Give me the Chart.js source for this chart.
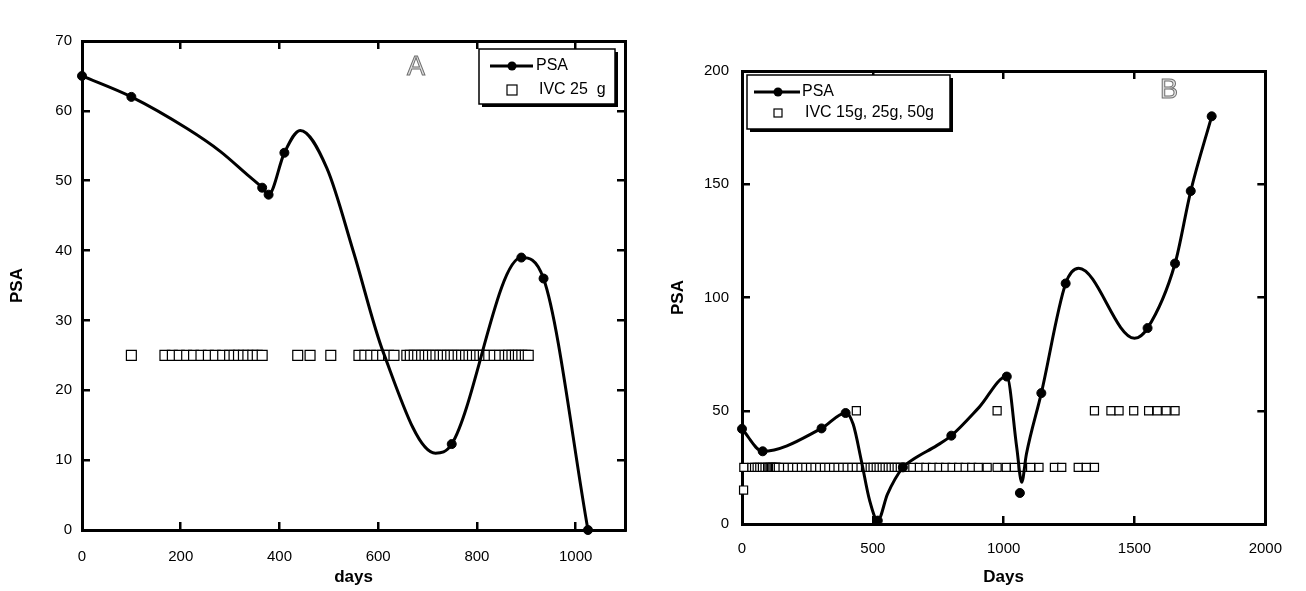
<!DOCTYPE html>
<html>
<head>
<meta charset="utf-8">
<title>PSA and IVC</title>
<script src="https://cdn.jsdelivr.net/npm/chart.js@4.4.0/dist/chart.umd.min.js"></script>
<style>
  html, body { margin: 0; padding: 0; background: #fff; }
  #wrap { position: relative; width: 1306px; height: 591px; overflow: hidden; }
  canvas { position: absolute; top: 0; }
  #chartA { left: 0; }
  #chartB { left: 653px; }
</style>
</head>
<body>
<div id="wrap">
  <canvas id="chartA" width="653" height="591"></canvas>
  <canvas id="chartB" width="653" height="591"></canvas>
</div>
<script>
// ---- panel A ----
var psaDaysA = [0, 100, 365, 378, 410, 749, 890, 935, 1025];
var psaA = [65, 62, 49, 48, 54, 12.3, 39, 36, 0];
// points (it bulges past the markers)
var curveDaysA = [0, 100, 212, 280, 334, 365, 378, 410, 442, 496, 550, 610, 716, 749, 890, 935, 1025];
var curveA = [65, 62, 57.5, 54.2, 50.9, 49, 48, 54, 57.2, 51.8, 39.8, 25.5, 11, 12.3, 39, 36, 0];
var ivcDaysA25 = [100,
  168, 183, 197, 212, 226, 241, 256, 270, 285, 299, 308, 317, 327, 336, 346, 355, 365,
  437, 462, 504,
  561, 573, 585, 597, 609, 621, 632,
  658, 665, 673, 680, 688, 695, 702, 710, 717, 725, 732, 740, 747, 754, 762, 769, 777, 784, 791, 799, 806, 813,
  824, 835, 846, 857, 864, 871, 878, 884, 891, 898, 904];
var xTicksA = { min: 0, max: 1100, step: 200 };
var yTicksA = { min: 0, max: 70, step: 10 };

// ---- panel B ----
var psaDaysB = [0, 79, 304, 396, 519, 615, 800, 1012, 1062, 1144, 1237, 1550, 1655, 1715, 1795];
var psaB = [42, 32.1, 42.2, 49, 1.5, 25, 39, 65.1, 13.7, 57.8, 106.2, 86.5, 115, 147, 180];
var curveDaysB = [0, 79, 304, 396, 425, 456, 488, 519, 556, 615, 656, 744, 800, 906, 1012, 1050, 1069, 1087,
  1144, 1237, 1287, 1500, 1550, 1655, 1715, 1795];
var curveB = [42, 32.1, 42.2, 49, 44, 28, 10.3, 1.5, 13.2, 25, 28.7, 34.6, 39, 51.5, 65.1, 33.8, 18.4, 30.9,
  57.8, 106.2, 112.9, 82, 86.5, 115, 147, 180];
var ivcDaysB15 = [6];
var ivcDaysB25 = [7, 38, 48, 58, 68, 78, 88, 98, 103, 108, 113, 118, 123, 128, 132,
  139, 157, 174, 192, 209, 227, 244, 262, 279, 297, 315, 332, 350, 367, 385, 402, 420, 437, 455, 472,
  490, 501, 513, 524, 536, 547, 559, 570, 582, 593, 605, 616,
  628, 653, 678, 703, 728, 753, 778, 803, 828, 853, 878, 903,
  937, 975, 1010, 1041, 1072, 1103, 1135, 1194, 1222, 1285, 1316, 1347];
var ivcDaysB50 = [437, 975, 1347, 1410, 1441, 1497, 1554, 1587, 1621, 1655];
var xTicksB = { min: 0, max: 2000, step: 500 };
var yTicksB = { min: 0, max: 200, step: 50 };

Chart.defaults.font.family = "'Liberation Sans', Arial, sans-serif";
Chart.defaults.color = '#000';

function pts(xs, ys) {
  return xs.map(function(x, i) { return { x: x, y: ys[i] }; });
}
function level(xs, v) {
  return xs.map(function(x) { return { x: x, y: v }; });
}
function plain(v) { return String(v); }

function buildScales(o) {
  var mark = { display: true, drawOnChartArea: false, drawTicks: true, tickLength: -8, lineWidth: 2.5, color: '#000' };
  var border = { display: true, color: '#000', width: 3 };
  var tickFont = { size: 15 };
  var titleFont = { size: 17, weight: 'bold' };
  return {
    x: {
      type: 'linear', position: 'bottom', min: o.xt.min, max: o.xt.max,
      ticks: { stepSize: o.xt.step, includeBounds: false, padding: o.xPad, font: tickFont, maxRotation: 0, callback: plain },
      grid: mark, border: border,
      title: { display: true, text: o.xTitle, font: titleFont, padding: { top: 0, bottom: 3 } },
      afterFit: function(s) { s.height = o.xHeight; }
    },
    x2: {
      type: 'linear', position: 'top', min: o.xt.min, max: o.xt.max,
      ticks: { stepSize: o.xt.step, includeBounds: false, display: false },
      grid: mark, border: border,
      afterFit: function(s) { s.height = 0; }
    },
    y: {
      type: 'linear', position: 'left', min: o.yt.min, max: o.yt.max,
      ticks: { stepSize: o.yt.step, padding: o.yPad, font: tickFont, callback: plain },
      grid: mark, border: border,
      title: { display: true, text: 'PSA', font: titleFont, padding: { top: o.yTitlePad, bottom: 0 } },
      afterFit: function(s) { s.width = o.yWidth; }
    },
    y2: {
      type: 'linear', position: 'right', min: o.yt.min, max: o.yt.max,
      ticks: { stepSize: o.yt.step, display: false },
      grid: mark, border: border,
      afterFit: function(s) { s.width = 0; }
    }
  };
}

// legend box with drop shadow + hollow panel letter
function decor(d) {
  return {
    id: 'decor',
    afterDraw: function(chart) {
      var ctx = chart.ctx;
      var sets = chart.data.datasets;
      var b = d.box;
      ctx.save();
      ctx.fillStyle = '#000';
      ctx.fillRect(b.x + 3, b.y + 3, b.w, b.h);
      ctx.fillStyle = '#fff';
      ctx.fillRect(b.x, b.y, b.w, b.h);
      ctx.strokeStyle = '#000';
      ctx.lineWidth = 1.5;
      ctx.strokeRect(b.x, b.y, b.w, b.h);

      // PSA row
      var y1 = b.y + d.row1;
      ctx.lineWidth = 3;
      ctx.beginPath();
      ctx.moveTo(b.x + d.lineFrom, y1);
      ctx.lineTo(b.x + d.lineTo, y1);
      ctx.stroke();
      ctx.beginPath();
      ctx.arc(b.x + d.mark, y1, 4.5, 0, Math.PI * 2);
      ctx.fillStyle = '#000';
      ctx.fill();
      ctx.font = "16px 'Liberation Sans', Arial, sans-serif";
      ctx.textBaseline = 'middle';
      ctx.textAlign = 'left';
      ctx.fillText(sets[1].label, b.x + d.text1, y1);

      // IVC row
      var y2 = b.y + d.row2;
      ctx.lineWidth = 1.2;
      ctx.fillStyle = '#fff';
      ctx.fillRect(b.x + d.mark - d.sq / 2, y2 - d.sq / 2, d.sq, d.sq);
      ctx.strokeRect(b.x + d.mark - d.sq / 2, y2 - d.sq / 2, d.sq, d.sq);
      ctx.fillStyle = '#000';
      ctx.fillText(d.ivcLabel, b.x + d.text2, y2);

      // panel letter
      ctx.font = "27px 'Liberation Sans', Arial, sans-serif";
      ctx.textAlign = 'center';
      ctx.fillStyle = '#e2e2e2';
      ctx.strokeStyle = '#707070';
      ctx.lineWidth = 1;
      ctx.fillText(d.letter, d.letterX, d.letterY);
      ctx.strokeText(d.letter, d.letterX, d.letterY);
      ctx.restore();
    }
  };
}

function makeChart(id, o) {
  var datasets = [
    { label: 'curve', data: pts(o.curveX, o.curveY), showLine: true, cubicInterpolationMode: 'monotone',
      borderColor: '#000', borderWidth: 3, pointRadius: 0, order: 2 },
    { label: 'PSA', data: pts(o.psaX, o.psaY), showLine: false, pointStyle: 'circle', pointRadius: 4.5,
      pointBackgroundColor: '#000', pointBorderColor: '#000', pointBorderWidth: 1, clip: false, order: 1 }
  ];
  o.ivc.forEach(function(g) {
    datasets.push({ label: 'IVC ' + g.dose + ' g', data: level(g.days, g.dose), showLine: false,
      pointStyle: 'rect', pointRadius: o.sqRadius, pointBackgroundColor: '#fff', pointBorderColor: '#000',
      pointBorderWidth: 1.2, clip: false, order: 3 });
  });

  return new Chart(document.getElementById(id), {
    type: 'line',
    data: { datasets: datasets },
    options: {
      responsive: false,
      animation: false,
      events: [],
      layout: { padding: o.padding },
      plugins: { legend: { display: false }, tooltip: { enabled: false } },
      scales: buildScales(o)
    },
    plugins: [decor(o.decor)]
  });
}

makeChart('chartA', {
  psaX: psaDaysA, psaY: psaA, curveX: curveDaysA, curveY: curveA,
  ivc: [{ dose: 25, days: ivcDaysA25 }],
  sqRadius: 7,
  xt: xTicksA, yt: yTicksA, xTitle: 'days',
  xPad: 26, yPad: 18, xHeight: 61, yWidth: 82, yTitlePad: 7,
  padding: { left: 0, top: 41, right: 28, bottom: 0 },
  decor: { box: { x: 479, y: 49, w: 136, h: 55 }, row1: 17, row2: 41,
    lineFrom: 11, lineTo: 54, mark: 33, text1: 57, text2: 60, sq: 10,
    ivcLabel: 'IVC 25  g', letter: 'A', letterX: 416, letterY: 68 }
});

makeChart('chartB', {
  psaX: psaDaysB, psaY: psaB, curveX: curveDaysB, curveY: curveB,
  ivc: [{ dose: 15, days: ivcDaysB15 }, { dose: 25, days: ivcDaysB25 }, { dose: 50, days: ivcDaysB50 }],
  sqRadius: 5.7,
  xt: xTicksB, yt: yTicksB, xTitle: 'Days',
  xPad: 24, yPad: 21, xHeight: 67, yWidth: 89, yTitlePad: 15,
  padding: { left: 0, top: 71, right: 30, bottom: 0 },
  decor: { box: { x: 94, y: 75, w: 203, h: 54 }, row1: 17, row2: 38,
    lineFrom: 7, lineTo: 53, mark: 31, text1: 55, text2: 58, sq: 8,
    ivcLabel: 'IVC 15g, 25g, 50g', letter: 'B', letterX: 516, letterY: 91 }
});
</script>
</body>
</html>
